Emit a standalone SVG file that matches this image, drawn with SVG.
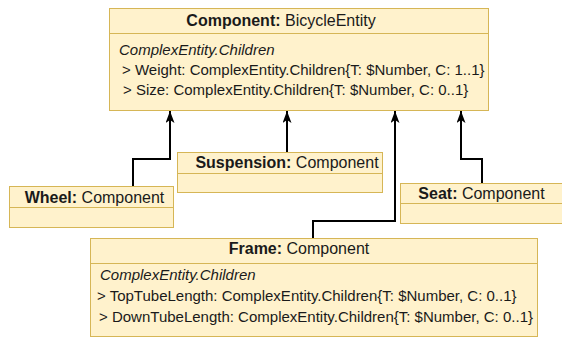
<svg xmlns="http://www.w3.org/2000/svg" width="562" height="338" viewBox="0 0 562 338">
<style>
.box{fill:#fff2cc;stroke:#d6b656;stroke-width:1}
.div{stroke:#d6b656;stroke-width:1;fill:none}
.t{font-family:"Liberation Sans",Arial,sans-serif;font-size:16px;fill:#1a1a1a;text-anchor:middle}
.b{font-weight:bold}
.a{font-family:"Liberation Sans",Arial,sans-serif;font-size:15px;fill:#1a1a1a}
.i{font-style:italic}
.c{fill:none;stroke:#000;stroke-width:2}
</style>
<defs>
<marker id="arr" markerUnits="userSpaceOnUse" viewBox="0 0 12 9" refX="12" refY="4.5" markerWidth="12" markerHeight="9" orient="auto">
<path d="M0,0 L12,4.5 L0,9 L3,4.5 Z" fill="#000"/>
</marker>
</defs>
<rect width="562" height="338" fill="#fff"/>
<g id="bicycleEntity">
<rect class="box" x="109.5" y="8.5" width="379" height="102"/>
<line class="div" x1="109.5" y1="33.5" x2="488.5" y2="33.5"/>
<text class="t" x="281" y="26"><tspan class="b">Component:</tspan> BicycleEntity</text>
<text class="a i" x="119" y="55">ComplexEntity.Children</text>
<text class="a" x="122" y="75">&gt; Weight: ComplexEntity.Children{T: $Number, C: 1..1}</text>
<text class="a" x="123" y="95">&gt; Size: ComplexEntity.Children{T: $Number, C: 0..1}</text>
</g>
<g id="wheel">
<rect class="box" x="9.5" y="186.5" width="164" height="41"/>
<line class="div" x1="9.5" y1="207.5" x2="173.5" y2="207.5"/>
<text class="t" x="94.5" y="203"><tspan class="b">Wheel:</tspan> Component</text>
</g>
<g id="suspension">
<rect class="box" x="177.5" y="152.5" width="205" height="40"/>
<line class="div" x1="177.5" y1="173.5" x2="382.5" y2="173.5"/>
<text class="t" x="287" y="168"><tspan class="b">Suspension:</tspan> Component</text>
</g>
<g id="seat">
<rect class="box" x="400.5" y="183.5" width="175" height="40"/>
<line class="div" x1="400.5" y1="203.5" x2="575.5" y2="203.5"/>
<text class="t" x="481.5" y="199"><tspan class="b">Seat:</tspan> Component</text>
</g>
<g id="frame">
<rect class="box" x="90.5" y="238.5" width="447" height="98"/>
<line class="div" x1="90.5" y1="263.5" x2="537.5" y2="263.5"/>
<text class="t" x="299" y="254"><tspan class="b">Frame:</tspan> Component</text>
<text class="a i" x="100" y="280">ComplexEntity.Children</text>
<text class="a" x="97" y="301">&gt; TopTubeLength: ComplexEntity.Children{T: $Number, C: 0..1}</text>
<text class="a" x="99" y="322">&gt; DownTubeLength: ComplexEntity.Children{T: $Number, C: 0..1}</text>
</g>
<g id="connectors">
<path class="c" d="M133,186 V159 H170 V111" marker-end="url(#arr)"/>
<path class="c" d="M287,152 V111" marker-end="url(#arr)"/>
<path class="c" d="M313,238 V221 H395 V111" marker-end="url(#arr)"/>
<path class="c" d="M482,183 V159 H461 V111" marker-end="url(#arr)"/>
</g>
</svg>
